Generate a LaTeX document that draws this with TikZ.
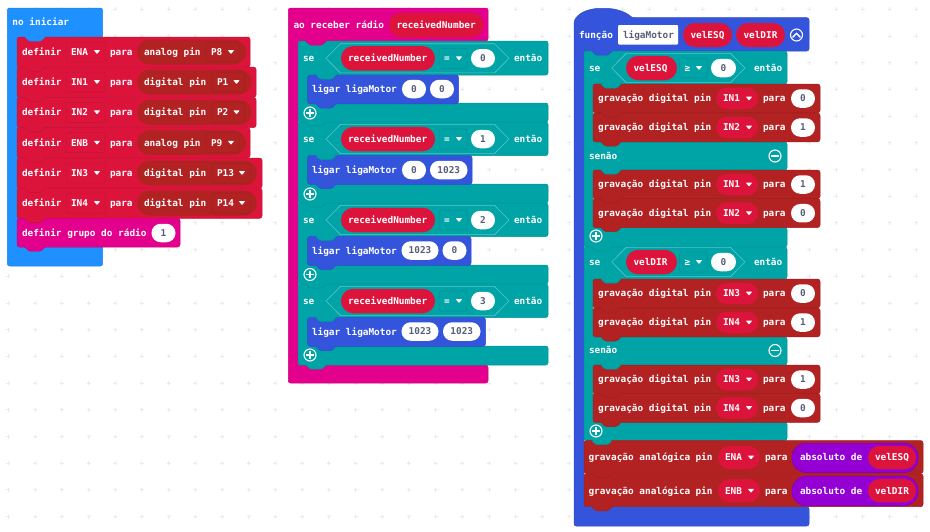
\documentclass[tikz,border=0pt]{standalone}
\usepackage{fontspec}
\newfontfamily\blockfont{DejaVu Sans Mono}[Scale=1.0]
\definecolor{cbasic}{HTML}{1E90FF}
\definecolor{cvar}{HTML}{DC143C}
\definecolor{cpin}{HTML}{B22222}
\definecolor{cradio}{HTML}{E3008C}
\definecolor{clogic}{HTML}{00A4A6}
\definecolor{cfunc}{HTML}{3455DB}
\definecolor{cmath}{HTML}{9400D3}
\definecolor{cgray}{HTML}{575E75}
\definecolor{cgrid}{HTML}{EAEAEA}
\definecolor{chex}{HTML}{5CC6C8}
\newcount\nn
\tikzset{
  lbl/.style={inner sep=0pt,outer sep=0pt,font=\blockfont\fontsize{9.4}{11}\selectfont\bfseries,text=white},
  edgeline/.style={draw=#1!90!black,line width=.5pt},
}
\newcommand{\tx}[3]{\global\advance\nn by 1 \node[lbl,anchor=base west,name=t\the\nn] at ({#1},{#2+3.3}) {#3};}
\newcommand{\gtx}[3]{\global\advance\nn by 1 \node[lbl,anchor=base west,text=cgray,name=t\the\nn] at ({#1},{#2+3.3}) {#3};}
\newcommand{\ctx}[3]{\global\advance\nn by 1 \node[lbl,anchor=base,text=cgray,name=t\the\nn] at ({#1},{#2+3.3}) {#3};}
\newcommand{\rct}[5]{\path[fill=#5,edgeline=#5,rounded corners=2.4pt] (#1,#2) rectangle (#3,#4);}
\newcommand{\tabb}[3]{\path[fill=#3,edgeline=#3,rounded corners=1.5pt] (#1+8,#2) -- (#1+12,#2+4.2) -- (#1+24,#2+4.2) -- (#1+28,#2);\fill[#3] (#1+8.6,#2-.6) rectangle (#1+27.4,#2+1);}
\newcommand{\pill}[5]{\pgfmathsetmacro\rr{#4/2-0.05}\fill[#5,rounded corners=\rr pt] (#1,#3-#4/2) rectangle (#2,#3+#4/2);}
\newcommand{\num}[4]{\pill{#1}{#2}{#3}{18.5}{white}\ctx{(#1+#2)/2}{#3}{#4}}
\newcommand{\tri}[2]{\fill[white,rounded corners=.6pt] (#1-3.2,#2-1.9) -- (#1+3.2,#2-1.9) -- (#1,#2+2.1) -- cycle;}
\newcommand{\dd}[5]{\path[fill=#5,draw=#5!90!black,line width=.5pt,rounded corners=2pt] (#1,#3-10) rectangle (#2,#3+10);\tx{#1+5}{#3}{#4}\tri{#2-8}{#3}}
\newcommand{\hexa}[3]{\draw[chex,line width=.6pt] (#1,#3) -- (#1+14.5,#3-14.6) -- (#2-14.5,#3-14.6) -- (#2,#3) -- (#2-14.5,#3+14.6) -- (#1+14.5,#3+14.6) -- cycle;}
\newcommand{\plusc}[2]{\draw[white,line width=1.1pt,fill=clogic] (#1,#2) circle (6pt);\draw[white,line width=1.5pt] (#1-3.6,#2) -- (#1+3.6,#2) (#1,#2-3.6) -- (#1,#2+3.6);}
\newcommand{\minusc}[2]{\draw[white,line width=1.1pt,fill=clogic] (#1,#2) circle (6pt);\draw[white,line width=1.5pt] (#1-3.6,#2) -- (#1+3.6,#2);}
% definir block: ytop, x2, name, label, pill end, pin x1, pin x2, pin
\newcommand{\defn}[8]{\rct{17}{#1}{#2}{#1+30.3}{cvar}
  \tx{22}{#1+15}{definir}
  \dd{66}{105}{#1+15}{#3}{cvar}
  \tx{110}{#1+15}{para}
  \pill{137}{#5}{#1+15}{25}{cpin}
  \tx{144}{#1+15}{#4}
  \dd{#6}{#7}{#1+15}{#8}{cpin}}
% col 2 if header, y centre
\newcommand{\seA}[2]{\tx{303}{#1}{se}\hexa{326}{509}{#1}
  \pill{341}{435}{#1}{24.5}{cvar}\tx{348}{#1}{receivedNumber}
  \dd{439}{467}{#1}{=}{clogic}
  \num{471}{495}{#1}{#2}\tx{514}{#1}{então}}
% digital write block: ytop, label, value
\newcommand{\dig}[3]{\rct{593}{#1}{820}{#1+28.8}{cpin}
  \tx{598}{#1+14.5}{gravação digital pin}
  \pill{716}{758}{#1+14.5}{21.5}{cvar}\tx{723}{#1+14.5}{#2}\tri{749}{#1+14.5}
  \tx{763}{#1+14.5}{para}
  \num{791}{815}{#1+14.5}{#3}}
% analog write block: ytop, label, var
\newcommand{\ana}[3]{\rct{584}{#1}{923}{#1+33}{cpin}
  \tx{588.5}{#1+17}{gravação analógica}\tx{695.5}{#1+17}{pin}
  \pill{718}{760}{#1+17}{23}{cvar}\tx{725}{#1+17}{#2}\tri{751}{#1+17}
  \tx{765}{#1+17}{para}
  \path[fill=cmath,draw=cmath!88!black,line width=.7pt,rounded corners=14pt] (792,#1+2.6) rectangle (918,#1+32);
  \tx{800}{#1+17}{absoluto de}
  \pill{868}{916}{#1+17}{23.5}{cvar}\tx{875}{#1+17}{#3}}
% if block col3 : y1 header-bottom senao-top senao-bottom band-top bottom
\newcommand{\ifc}[6]{\path[fill=clogic,edgeline=clogic,rounded corners=2.2pt] (584,#1) -- (787,#1) -- (787,#2) -- (593,#2) -- (593,#3) -- (787,#3) -- (787,#4) -- (593,#4) -- (593,#5) -- (787,#5) -- (787,#6) -- (584,#6) -- cycle;}
\newcommand{\ifb}[5]{\path[fill=clogic,edgeline=clogic,rounded corners=2.2pt] (298,#1) -- (548,#1) -- (548,#2) -- (#5,#2) -- (#5,#3) -- (548,#3) -- (548,#4) -- (298,#4) -- cycle;}
\newcommand{\lig}[2]{\rct{307.7}{#1}{#2}{#1+28.8}{cfunc}\tx{312}{#1+14.3}{ligar ligaMotor}}
\begin{document}
\begin{tikzpicture}[x=1pt,y=-1pt]
\useasboundingbox (0,0) rectangle (930,531);
\fill[white] (0,0) rectangle (930,531);
% background grid crosses
\foreach \i in {0,...,34}{\foreach \j in {0,...,19}{
  \draw[cgrid,line width=.9pt] (8.4+26.7*\i-2,9.3+26.7*\j) -- (8.4+26.7*\i+2,9.3+26.7*\j) (8.4+26.7*\i,9.3+26.7*\j-2) -- (8.4+26.7*\i,9.3+26.7*\j+2);
}}
% ===== column 1
\rct{7.3}{8}{102.7}{266}{cbasic}
\tx{12.5}{22.5}{no iniciar}
\defn{37}{250}{ENA}{analog pin}{246}{206}{239}{P8}
\defn{67}{256}{IN1}{digital pin}{251.5}{212}{244.5}{P1}
\defn{97.3}{256}{IN2}{digital pin}{251.5}{212}{244.5}{P2}
\defn{127.7}{250}{ENB}{analog pin}{246}{206}{239}{P9}
\defn{158}{262}{IN3}{digital pin}{257}{212}{250}{P13}
\defn{188}{262}{IN4}{digital pin}{257}{212}{250}{P14}
\rct{17}{218.3}{180}{247}{cradio}
\tx{22}{233}{definir grupo do rádio}
\num{151.5}{175.5}{233}{1}
% ===== column 2
\path[fill=cradio,edgeline=cradio,rounded corners=2.2pt] (288.3,8) -- (488,8) -- (488,41) -- (298,41) -- (298,365) -- (488,365) -- (488,383) -- (288.3,383) -- cycle;
\tx{293.5}{25}{ao receber rádio}
\pill{389}{483.5}{25}{24.5}{cvar}\tx{396.5}{25}{receivedNumber}
\ifb{41}{75}{103}{122}{308}
\ifb{122}{155.5}{184}{203}{308}
\ifb{203}{236.5}{265}{284}{308}
\ifb{284}{317.5}{346}{365}{308}
\seA{58.3}{0}\seA{139}{1}\seA{220}{2}\seA{301}{3}
\lig{75}{458.5}\num{402}{426}{89}{0}\num{430}{454}{89}{0}
\lig{155.5}{472}\num{402}{426}{170}{0}\num{430}{467.5}{170}{1023}
\lig{236.5}{471}\num{401.5}{438.5}{250.5}{1023}\num{442.5}{466.5}{250.5}{0}
\lig{317.5}{485.5}\num{401.5}{438.5}{331.5}{1023}\num{443}{480.5}{331.5}{1023}
\plusc{310}{113}\plusc{310}{194}\plusc{310}{274.5}\plusc{310}{355}
% ===== column 3
\path[fill=cfunc,edgeline=cfunc,rounded corners=2.2pt] (574,21) .. controls (580,11) and (592,8.3) .. (603,8.3) .. controls (616,8.3) and (626,12) .. (632,17.7) -- (809,17.7) -- (809,51) -- (584,51) -- (584,506.7) -- (809,506.7) -- (809,526) -- (574,526) -- cycle;
\tx{579}{35}{função}
\fill[white,rounded corners=1pt] (618,25) rectangle (678,44.5);
\gtx{623}{35}{ligaMotor}
\pill{683}{732}{35}{24}{cvar}\tx{690.5}{35}{velESQ}
\pill{736}{785}{35}{24}{cvar}\tx{743.5}{35}{velDIR}
\draw[white,line width=1.1pt] (796.5,35) circle (6pt);
\draw[white,line width=1.5pt,line join=round,line cap=round] (793,37) -- (796.5,33.3) -- (800,37);
\ifc{51}{84}{142}{170}{227.3}{247}
\ifc{247}{279}{337}{365}{422}{440.5}
% first if
\tx{589}{68}{se}\hexa{611.7}{745}{68}
\pill{626}{677}{68}{24.5}{cvar}\tx{633.5}{68}{velESQ}
\dd{679.5}{707}{68}{≥}{clogic}
\num{711}{736}{68}{0}\tx{754}{68}{então}
\dig{84}{IN1}{0}\dig{113}{IN2}{1}
\tx{589}{156}{senão}\minusc{775}{156}
\dig{170}{IN1}{1}\dig{198.7}{IN2}{0}
\plusc{596}{236}
% second if
\tx{589}{262}{se}\hexa{611.7}{745}{262}
\pill{626}{677}{262}{24.5}{cvar}\tx{633.5}{262}{velDIR}
\dd{679.5}{707}{262}{≥}{clogic}
\num{711}{736}{262}{0}\tx{754}{262}{então}
\dig{279}{IN3}{0}\dig{308}{IN4}{1}
\tx{589}{350.5}{senão}\minusc{775}{350.5}
\dig{365}{IN3}{1}\dig{393.5}{IN4}{0}
\plusc{596}{431}
\ana{440.5}{ENA}{velESQ}
\ana{473.7}{ENB}{velDIR}
% ===== connector tabs
\foreach \y/\c in {37/cbasic,67.3/cvar,97.3/cvar,127.7/cvar,158/cvar,188.3/cvar,218.3/cvar,247/cradio}{\tabb{17}{\y}{\c}}
\foreach \y/\c in {41/cradio,122/clogic,203/clogic,284/clogic,365/clogic}{\tabb{298}{\y}{\c}}
\foreach \y/\c in {75/clogic,103.8/cfunc,155.5/clogic,184.3/cfunc,236.5/clogic,265.3/cfunc,317.5/clogic,346.3/cfunc}{\tabb{308}{\y}{\c}}
\foreach \y/\c in {51/cfunc,247/clogic,440.5/clogic,473.5/cpin,506.7/cpin}{\tabb{584}{\y}{\c}}
\foreach \y/\c in {84/clogic,113/cpin,141.8/cpin,170/clogic,198.7/cpin,227.5/cpin,279/clogic,308/cpin,336.8/cpin,365/clogic,393.5/cpin,422.3/cpin}{\tabb{593}{\y}{\c}}
\end{tikzpicture}
\end{document}
